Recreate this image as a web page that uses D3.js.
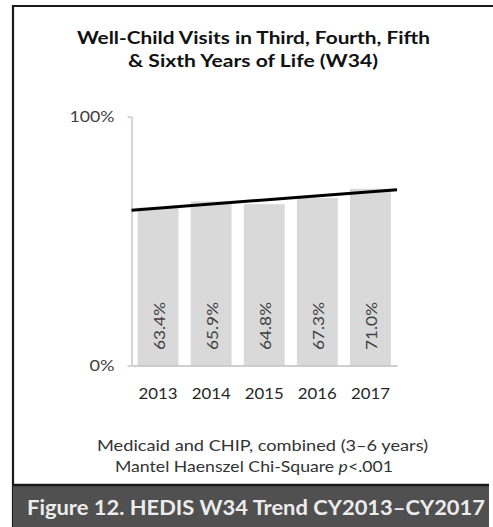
<!DOCTYPE html>
<html>
<head>
<meta charset="utf-8">
<script src="https://cdn.jsdelivr.net/npm/d3@7"></script>
<style>
  html, body { margin: 0; padding: 0; background: #fff; }
  svg { display: block; font-family: Lato, "Open Sans", sans-serif; }
</style>
</head>
<body>
<svg id="chart" width="493" height="527"></svg>
<script>
// W34 well-child visit rates by measurement year
const years = ["2013", "2014", "2015", "2016", "2017"];
const rates = [63.4, 65.9, 64.8, 67.3, 71.0];
const yTicks = [0, 100];
const titleLines = ["Well-Child Visits in Third, Fourth, Fifth", "& Sixth Years of Life (W34)"];
const noteLines = ["Medicaid and CHIP, combined (3\u20136 years)", "Mantel Haenszel Chi-Square "];
const caption = "Figure 12. HEDIS W34 Trend CY2013\u2013CY2017";

const svg = d3.select("#chart");
const W = 493, H = 527;

// Stretch a text run to a set advance width (wide report typeface)
function fit(sel, len) {
  sel.attr("textLength", len).attr("lengthAdjust", "spacingAndGlyphs");
}

// Plot area
const plotL = 131.5, plotR = 397, plotT = 116.5, plotB = 365.5;

const x = d3.scaleBand().domain(years).range([plotL, plotR])
  .paddingInner(0.23).paddingOuter(0.115);
const y = d3.scaleLinear().domain([0, 100]).range([plotB, plotT]);

// Frame
svg.append("path")
  .attr("d", `M13,${H} V6 H${W}`)
  .attr("fill", "none").attr("stroke", "#1a1a1a").attr("stroke-width", 2.2);

// Title
const titleStarts = [77, 128], titleLens = [353, 250];
svg.append("g").selectAll("text").data(titleLines).join("text")
  .attr("x", (d, i) => titleStarts[i]).attr("y", (d, i) => 44 + i * 22.5)
  .attr("font-size", 16.5).attr("font-weight", "bold").attr("fill", "#111")
  .text(d => d)
  .each(function (d, i) { fit(d3.select(this), titleLens[i]); });

// Bars
svg.append("g").selectAll("rect").data(rates).join("rect")
  .attr("x", (d, i) => x(years[i]))
  .attr("width", x.bandwidth())
  .attr("y", d => y(d))
  .attr("height", d => y(0) - y(d))
  .attr("fill", "#d9d9d9");

// Value labels, rotated inside the bars
svg.append("g").selectAll("text").data(rates).join("text")
  .attr("transform", (d, i) => `translate(${x(years[i]) + x.bandwidth() / 2 + 6.5},${326}) rotate(-90)`)
  .attr("x", -24)
  .attr("font-size", 14.5).attr("fill", "#404040")
  .text(d => d.toFixed(1) + "%")
  .call(fit, 48);

// Y axis
const yAxis = svg.append("g")
  .attr("transform", `translate(${plotL},0)`)
  .call(d3.axisLeft(y).tickValues(yTicks).tickSize(4).tickSizeOuter(0)
    .tickPadding(13).tickFormat(d => d + "%"));
yAxis.select(".domain").attr("stroke", "#bfbfbf").attr("stroke-width", 1.3);
yAxis.selectAll(".tick line").attr("stroke", "#bfbfbf").attr("stroke-width", 1.3);
yAxis.selectAll(".tick text").attr("font-size", 15).attr("fill", "#404040")
  .attr("font-family", "Lato, sans-serif")
  .each(function (d) { fit(d3.select(this), d === 100 ? 45 : 25); });

// X axis
const xAxis = svg.append("g")
  .attr("transform", `translate(0,${plotB})`)
  .call(d3.axisBottom(x).tickSize(0).tickPadding(22.5));
xAxis.select(".domain").attr("stroke", "#bfbfbf").attr("stroke-width", 1.3);
xAxis.selectAll(".tick text").attr("font-size", 15).attr("fill", "#262626")
  .attr("font-family", "Lato, sans-serif")
  .call(fit, 39);

// Linear trend line (least squares over year index), extended half a category each side
const n = rates.length;
const idx = d3.range(n);
const mx = d3.mean(idx), my = d3.mean(rates);
const slope = d3.sum(idx, i => (i - mx) * (rates[i] - my)) / d3.sum(idx, i => (i - mx) ** 2);
const icpt = my - slope * mx;
const step = x.step();
const cx = t => x(years[0]) + x.bandwidth() / 2 + t * step;
const trend = [-0.5, n - 0.5].map(t => [cx(t), y(icpt + slope * t)]);
svg.append("path")
  .attr("d", d3.line()(trend))
  .attr("stroke", "#000").attr("stroke-width", 3).attr("fill", "none");

// Notes under the chart
const notes = svg.append("g").attr("font-size", 15).attr("fill", "#333");
notes.append("text").attr("x", 97).attr("y", 451).text(noteLines[0]).call(fit, 331);
const n2 = notes.append("text").attr("x", 115).attr("y", 472).call(fit, 278);
n2.append("tspan").text(noteLines[1]);
n2.append("tspan").attr("font-style", "italic").text("p");
n2.append("tspan").text("<.001");

// Caption bar
svg.append("rect").attr("x", 13).attr("y", 485).attr("width", 476).attr("height", H - 485)
  .attr("fill", "#505050");
svg.append("line").attr("x1", 12).attr("x2", 489).attr("y1", 485).attr("y2", 485)
  .attr("stroke", "#1a1a1a").attr("stroke-width", 2.4);
svg.append("text").attr("x", 27).attr("y", 514.5)
  .attr("font-size", 21).attr("font-weight", "bold")
  .attr("fill", "#ececec").text(caption).call(fit, 458);
</script>
</body>
</html>
